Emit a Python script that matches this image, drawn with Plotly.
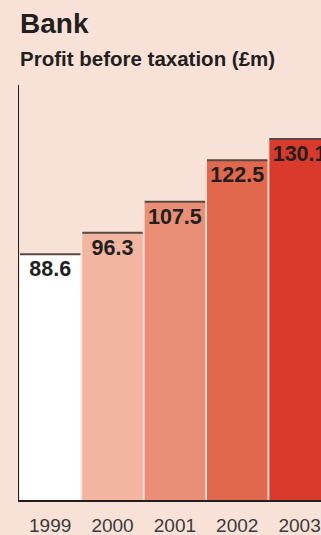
import plotly.graph_objects as go

years = ["1999", "2000", "2001", "2002", "2003"]
profit = [88.6, 96.3, 107.5, 122.5, 130.1]
bar_colors = ["#FFFFFF", "#F2B6A0", "#E98F75", "#E2684D", "#DA3A2B"]
labels = ["88.6", "96.3", "107.5", "122.5", "130.1"]

xs = list(range(len(years)))
BW = 0.97

# top edge segments for each bar (built from the data)
lx, ly = [], []
for x, v in zip(xs, profit):
    lx += [x - BW / 2, x + BW / 2, None]
    ly += [v, v, None]

fig = go.Figure()
fig.add_trace(go.Bar(
    x=xs, y=profit, width=BW,
    marker=dict(color=bar_colors, line=dict(width=0)),
    text=labels, textposition="inside", insidetextanchor="end",
    constraintext="none",
    textfont=dict(family="Liberation Sans, Arial, sans-serif", size=21.5, color="#231F20", weight="bold"),
    hoverinfo="skip", showlegend=False,
))
fig.add_trace(go.Scatter(
    x=lx, y=ly, mode="lines", line=dict(color="#574846", width=2),
    hoverinfo="skip", showlegend=False, cliponaxis=True,
))

bg = "#F8E2D8"
fig.update_layout(
    width=321, height=535,
    margin=dict(l=19, r=0, t=85, b=35),
    paper_bgcolor=bg, plot_bgcolor=bg,
    font=dict(family="Liberation Sans, Arial, sans-serif", color="#231F20"),
    xaxis=dict(range=[-0.5, 4.343], tickvals=xs, ticktext=years, showgrid=False,
               zeroline=False, showline=True, linecolor="#231F20", linewidth=2,
               ticks="", tickfont=dict(size=19, color="#3A3A3A"), ticklabelstandoff=7),
    yaxis=dict(range=[0, 149.6], showgrid=False, zeroline=False, showline=True,
               linecolor="#231F20", linewidth=1, showticklabels=False, ticks=""),
    annotations=[
        dict(text="<b>Bank</b>", xref="paper", yref="paper", x=0, xanchor="left",
             y=(500 - 23) / 415, yanchor="middle", showarrow=False, xshift=-1,
             font=dict(size=28, color="#231F20")),
        dict(text="<b>Profit before taxation (£m)</b>", xref="paper", yref="paper", x=0,
             xanchor="left", y=(500 - 58) / 415, yanchor="middle", showarrow=False, xshift=-1,
             font=dict(size=20.5, color="#231F20")),
    ],
)
fig.write_html("out.html")
